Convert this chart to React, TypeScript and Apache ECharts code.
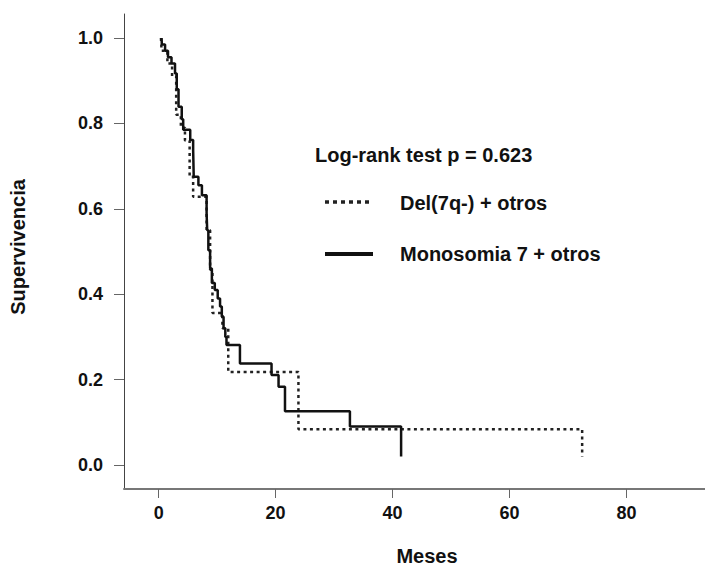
import React, { useEffect, useRef } from "react";
import * as echarts from "echarts";

// Kaplan-Meier curves: [months, survival]
const monosomia7: [number, number][] = [
  [0.5, 1.0], [0.55, 0.985], [1.1, 0.97], [1.6, 0.955], [2.2, 0.94],
  [2.8, 0.917], [3.1, 0.88], [3.4, 0.839], [3.95, 0.81], [4.2, 0.785],
  [5.4, 0.761], [5.9, 0.738], [6.0, 0.675], [6.8, 0.655], [7.4, 0.632],
  [8.2, 0.59], [8.3, 0.55], [8.5, 0.503], [8.8, 0.46], [9.1, 0.426],
  [9.6, 0.41], [10.1, 0.39], [10.5, 0.371], [10.8, 0.347], [11.1, 0.32],
  [11.4, 0.30], [11.6, 0.281], [13.9, 0.238], [19.3, 0.211], [20.5, 0.183],
  [21.6, 0.126], [32.7, 0.09], [41.45, 0.02],
];

const del7q: [number, number][] = [
  [0.4, 1.0], [0.5, 0.97], [1.5, 0.94], [2.3, 0.91], [3.0, 0.82],
  [3.8, 0.79], [4.5, 0.76], [5.3, 0.675], [5.9, 0.628], [8.2, 0.55],
  [8.8, 0.457], [9.2, 0.356], [10.9, 0.32], [11.9, 0.218], [23.9, 0.084],
  [72.4, 0.02],
];

const xTicks = [0, 20, 40, 60, 80];
const yTicks = [0, 0.2, 0.4, 0.6, 0.8, 1.0];

const xTitle = "Meses";
const yTitle = "Supervivencia";
const testLabel = "Log-rank test p = 0.623";
const seriesNames = ["Del(7q-) + otros", "Monosomia 7 + otros"];

const FONT = '"Liberation Sans", Arial, sans-serif';

export default function App() {
  const ref = useRef<HTMLDivElement>(null);

  useEffect(() => {
    if (!ref.current) return;
    const chart = echarts.init(ref.current, undefined, { renderer: "svg" });
    const textStyle = (text: string, size: number, align: string, vAlign: string) => ({
      text,
      x: 0,
      y: 0,
      fill: "#111",
      fontSize: size,
      fontWeight: "bold",
      fontFamily: FONT,
      align,
      verticalAlign: vAlign,
    });
    chart.setOption({
      animation: false,
      backgroundColor: "#ffffff",
      grid: { left: 124, right: 0, top: 14, bottom: 78, containLabel: false },
      xAxis: {
        type: "value",
        min: -5.92,
        max: 93.4,
        splitLine: { show: false },
        axisLine: { show: true, onZero: false, lineStyle: { color: "#777", width: 2 } },
        axisTick: {
          show: true,
          length: 9,
          customValues: xTicks,
          lineStyle: { color: "#666", width: 1 },
        },
        axisLabel: {
          customValues: xTicks,
          margin: 15,
          color: "#111",
          fontSize: 18,
          fontWeight: "bold",
          fontFamily: FONT,
        },
      },
      yAxis: {
        type: "value",
        min: -0.0562,
        max: 1.0562,
        splitLine: { show: false },
        axisLine: { show: true, onZero: false, lineStyle: { color: "#444", width: 1 } },
        axisTick: {
          show: true,
          length: 10,
          customValues: yTicks,
          lineStyle: { color: "#666", width: 1 },
        },
        axisLabel: {
          customValues: yTicks,
          margin: 21,
          color: "#111",
          fontSize: 18,
          fontWeight: "bold",
          fontFamily: FONT,
          formatter: (v: number) => v.toFixed(1),
        },
      },
      series: [
        {
          name: seriesNames[0],
          type: "line",
          step: "end",
          data: del7q,
          showSymbol: false,
          symbol: "none",
          lineStyle: { color: "#222", width: 2.5, type: [3, 3.5] },
          z: 2,
        },
        {
          name: seriesNames[1],
          type: "line",
          step: "end",
          data: monosomia7,
          showSymbol: false,
          symbol: "none",
          lineStyle: { color: "#111", width: 2.5, type: "solid" },
          z: 3,
        },
      ],
      graphic: [
        { type: "text", x: 18, y: 247, rotation: Math.PI / 2, style: textStyle(yTitle, 20, "center", "middle") },
        { type: "text", x: 427, y: 556, style: textStyle(xTitle, 20, "center", "middle") },
        { type: "text", x: 315, y: 155, style: textStyle(testLabel, 20, "left", "middle") },
        {
          type: "line",
          shape: { x1: 325, y1: 202, x2: 372, y2: 202 },
          style: { stroke: "#222", lineWidth: 3.5, lineDash: [4, 4] },
        },
        { type: "text", x: 400, y: 203, style: textStyle(seriesNames[0], 20, "left", "middle") },
        {
          type: "line",
          shape: { x1: 325, y1: 254, x2: 373, y2: 254 },
          style: { stroke: "#111", lineWidth: 4 },
        },
        { type: "text", x: 400, y: 254, style: textStyle(seriesNames[1], 20, "left", "middle") },
      ],
    });
    return () => chart.dispose();
  }, []);

  return (
    <div
      ref={ref}
      style={{ position: "absolute", left: 0, top: 0, width: 705, height: 567, background: "#fff" }}
    />
  );
}
